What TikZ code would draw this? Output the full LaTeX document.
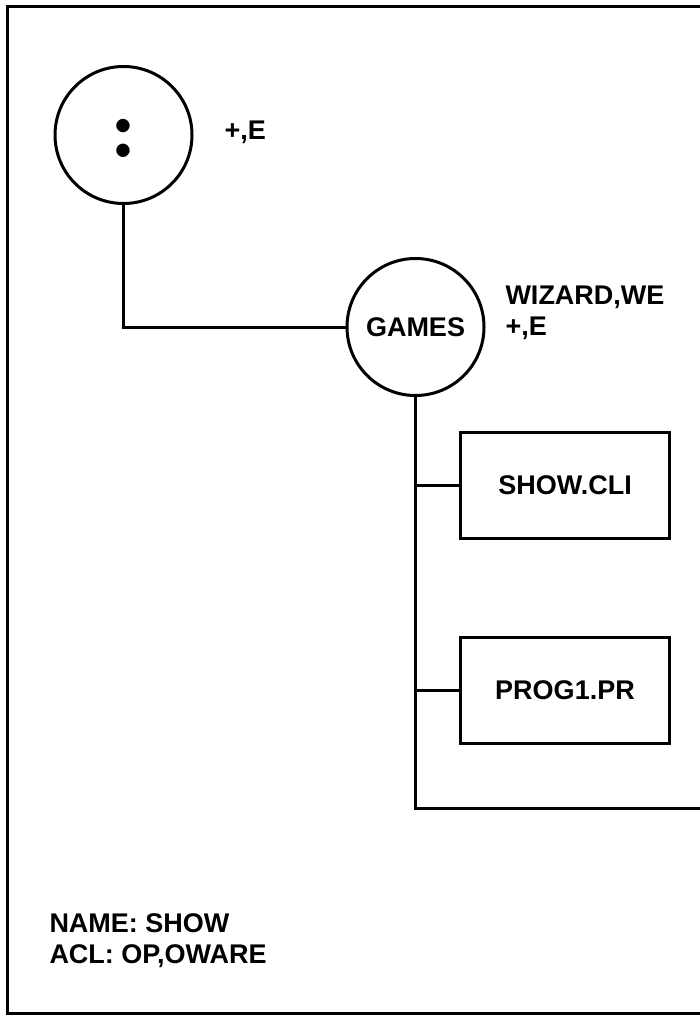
\documentclass[tikz,border=0pt]{standalone}
\usepackage{fontspec}
\setmainfont{Liberation Sans}
\usepackage{tikz}
\usetikzlibrary{positioning}

\begin{document}
\begin{tikzpicture}[x=1pt,y=-1pt,line width=3pt,
	every node/.style={font=\fontsize{27}{31}\selectfont\bfseries},
	dirnode/.style={draw,circle,minimum size=137pt,inner sep=0pt},
	filebox/.style={draw,rectangle,minimum width=209pt,minimum height=106pt,inner sep=0pt},
	acl/.style={align=left,inner sep=0pt,anchor=north west}]
\useasboundingbox (0,0) rectangle (700,1019);

\draw (700,7) -- (7,7) -- (7,1013) -- (700,1013);


\node[dirnode,font=\fontfamily{lmr}\fontsize{86}{86}\selectfont\bfseries,text height=46pt](root) at (123.5,135) {:};
\node[acl](rootacl) at (223,119) {+,E};

\node[dirnode](games) at (415.5,327) {GAMES};
\node[acl](gamesacl) at (504,284) {WIZARD,WE\\+,E};

\draw (root.south) |- (games.west);


\foreach \n/\t/\y in {cli/SHOW.CLI/485,prog/PROG1.PR/690}{
	\node[filebox](\n) at (565,\y) {\t};
	\draw (\n.west) -- (\n.west -| games.south);
}

\coordinate(trunk) at (415.5,808);
\coordinate(rim) at (700,808);
\draw (games.south) -- (trunk) -- (rim);


\node[acl](info) at (48,912) {NAME: SHOW\\ACL: OP,OWARE};

\end{tikzpicture}
\end{document}
